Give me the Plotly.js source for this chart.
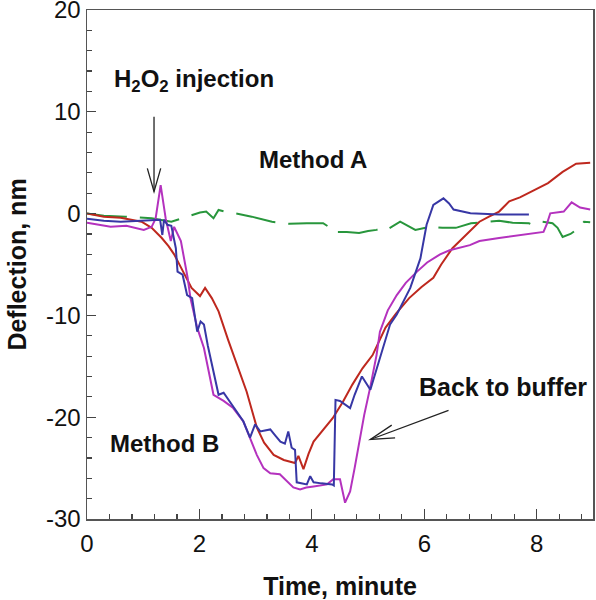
<!DOCTYPE html>
<html>
<head>
<meta charset="utf-8">
<script src="https://cdn.plot.ly/plotly-3.0.1.min.js"></script>
<style>html,body{margin:0;padding:0;background:#fff;}#chart{width:596px;height:600px;}</style>
</head>
<body>
<div id="chart"></div>
<script>
// Axis ticks
const xTickVals = [0, 2, 4, 6, 8];
const xTickText = ['0', '2', '4', '6', '8'];
const yTickVals = [-30, -20, -10, 0, 10, 20];
const yTickText = ['-30', '-20', '-10', '0', '10', '20'];

// Red trace
const redX = [0, 0.3, 0.6, 0.8, 0.97, 1.15, 1.33, 1.45, 1.55, 1.7, 1.86, 2.01, 2.1, 2.22, 2.34, 2.51, 2.69, 2.84, 3.02, 3.15, 3.32, 3.5, 3.7, 3.76, 3.85, 3.94, 4.03, 4.2, 4.37, 4.55, 4.72, 4.9, 5.08, 5.31, 5.5, 5.73, 5.95, 6.16, 6.3, 6.5, 6.75, 6.98, 7.15, 7.33, 7.51, 7.7, 7.92, 8.2, 8.46, 8.7, 8.95];
const redY = [0, -0.3, -0.4, -0.6, -0.8, -1.4, -2.4, -3.2, -4.0, -5.6, -7.3, -8.1, -7.3, -8.3, -9.6, -12.4, -15.2, -17.5, -21.0, -22.5, -23.7, -24.2, -24.5, -23.8, -25.1, -23.6, -22.4, -21.3, -20.1, -18.5, -16.8, -15.2, -13.9, -11.2, -9.8, -8.3, -7.2, -6.3, -5.0, -3.4, -2.0, -0.8, -0.3, 0.2, 1.2, 1.6, 2.2, 3.0, 4.1, 4.9, 5.0];

// Blue trace
const blueX = [0, 0.3, 0.6, 0.9, 1.19, 1.3, 1.34, 1.37, 1.43, 1.5, 1.58, 1.61, 1.7, 1.78, 1.87, 1.96, 2.02, 2.08, 2.15, 2.25, 2.34, 2.43, 2.55, 2.66, 2.78, 2.9, 2.99, 3.08, 3.17, 3.26, 3.35, 3.44, 3.52, 3.58, 3.64, 3.7, 3.73, 3.82, 3.91, 3.97, 4.03, 4.17, 4.36, 4.39, 4.42, 4.5, 4.68, 4.76, 4.89, 5.04, 5.21, 5.39, 5.51, 5.75, 5.93, 6.04, 6.16, 6.34, 6.44, 6.52, 6.82, 7.33, 7.86];
const blueY = [-0.5, -0.7, -0.8, -0.7, -0.6, -0.6, -2.1, -0.6, -1.1, -1.2, -3.4, -5.7, -6.0, -8.0, -8.3, -11.6, -10.6, -10.9, -13.0, -15.5, -17.8, -17.6, -18.6, -19.5, -20.4, -22.0, -20.7, -21.4, -21.3, -21.2, -21.8, -22.4, -22.6, -21.4, -23.0, -23.2, -26.4, -26.5, -26.6, -25.8, -26.4, -26.5, -26.6, -26.7, -18.3, -18.4, -19.1, -17.8, -16.0, -17.3, -14.2, -10.9, -9.9, -7.3, -4.4, -1.1, 0.85, 1.5, 1.0, 0.4, 0.03, -0.1, -0.1];

// Magenta trace
const magX = [0, 0.42, 0.7, 1.01, 1.15, 1.22, 1.31, 1.4, 1.49, 1.55, 1.67, 1.79, 1.84, 1.96, 2.08, 2.17, 2.25, 2.43, 2.6, 2.78, 2.87, 3.02, 3.14, 3.26, 3.43, 3.55, 3.67, 3.79, 3.9, 4.03, 4.27, 4.38, 4.5, 4.59, 4.68, 4.76, 4.84, 4.93, 5.04, 5.15, 5.21, 5.35, 5.51, 5.67, 5.87, 6.05, 6.28, 6.45, 6.81, 6.98, 7.33, 7.6, 7.81, 8.12, 8.18, 8.24, 8.48, 8.62, 8.77, 8.95];
const magY = [-0.9, -1.3, -1.2, -1.6, -1.3, -0.5, 2.8, -0.5, -2.7, -1.3, -2.7, -6.3, -8.3, -11.2, -13.2, -15.5, -17.8, -18.4, -19.1, -20.4, -21.7, -23.7, -25.0, -25.5, -25.6, -26.3, -26.9, -27.1, -26.9, -26.8, -26.6, -26.1, -26.1, -28.4, -27.3, -25.0, -22.4, -19.8, -17.0, -13.9, -11.6, -9.5, -8.0, -6.8, -5.7, -4.8, -4.0, -3.6, -3.1, -2.7, -2.4, -2.2, -2.1, -1.8, -1.0, 0.03, 0.2, 1.1, 0.6, 0.4];

// Green dashed trace (Method A)
const greenX = [0, 0.3, 0.68, 1.15, 1.5, 1.74, 2.01, 2.12, 2.25, 2.34, 2.45, 2.63, 2.93, 3.29, 3.52, 3.6, 3.91, 4.2, 4.3, 4.38, 4.54, 4.62, 4.84, 5.0, 5.15, 5.24, 5.33, 5.57, 5.84, 6.1, 6.32, 6.56, 6.83, 7.1, 7.33, 7.57, 7.86, 7.92, 8.1, 8.28, 8.37, 8.46, 8.6, 8.75, 8.84, 8.95];
const greenY = [0, -0.2, -0.3, -0.46, -0.8, -0.4, 0.1, 0.2, -0.46, 0.36, 0.2, 0.03, -0.3, -0.8, -0.95, -1.0, -0.95, -0.95, -1.3, -1.8, -1.8, -1.8, -1.9, -1.7, -1.6, -1.44, -1.6, -0.8, -1.6, -1.3, -1.4, -1.4, -0.95, -0.8, -0.7, -0.9, -0.95, -1.1, -0.8, -0.95, -1.4, -2.3, -2.0, -1.4, -0.8, -0.85];

const FONT = 'Liberation Sans, Arial, Helvetica, sans-serif';

const traces = [
  {x: greenX, y: greenY, mode: 'lines', line: {color: 'rgb(40,150,60)', width: 2, dash: '40px,13px'}},
  {x: redX, y: redY, mode: 'lines', line: {color: 'rgb(190,40,30)', width: 2}},
  {x: magX, y: magY, mode: 'lines', line: {color: 'rgb(180,50,190)', width: 2}},
  {x: blueX, y: blueY, mode: 'lines', line: {color: 'rgb(55,55,165)', width: 2}}
];

const axisCommon = {
  showgrid: false, zeroline: false, showline: true, linecolor: '#555', linewidth: 1.5,
  mirror: true, ticks: 'inside', tickcolor: '#444', tickwidth: 1.2, tickmode: 'array',
  ticklabeloverflow: 'allow',
  tickfont: {family: FONT, size: 24, color: '#111'}
};

const layout = {
  width: 596, height: 600,
  margin: {l: 87, r: 3, t: 10, b: 81},
  paper_bgcolor: '#fff', plot_bgcolor: '#fff',
  showlegend: false,
  font: {family: FONT, color: '#111'},
  xaxis: Object.assign({}, axisCommon, {
    range: [0, 9], tickvals: xTickVals, ticktext: xTickText, ticklen: 10, ticklabelstandoff: 3,
    minor: {tickmode: 'linear', dtick: 0.4, tick0: 0, ticks: 'inside', ticklen: 5, tickcolor: '#444', tickwidth: 1.2, showgrid: false},
    title: {text: 'Time, minute', font: {family: FONT, size: 25, weight: 'bold', color: '#111'}, standoff: 22}
  }),
  yaxis: Object.assign({}, axisCommon, {
    range: [-30, 20], tickvals: yTickVals, ticktext: yTickText, ticklen: 9,
    minor: {tickmode: 'linear', dtick: 2, tick0: 0, ticks: 'inside', ticklen: 5, tickcolor: '#444', tickwidth: 1.2, showgrid: false},
    title: {text: 'Deflection, nm', font: {family: FONT, size: 25, weight: 'bold', color: '#111'}, standoff: 12}
  }),
  annotations: [
    {x: 0.44, y: 13.1, xref: 'x', yref: 'y', xanchor: 'left', yanchor: 'middle', showarrow: false,
     text: 'H<sub>2</sub>O<sub>2</sub> injection', font: {family: FONT, size: 24, weight: 'bold', color: '#111'}},
    {x: 3.02, y: 5.34, xref: 'x', yref: 'y', xanchor: 'left', yanchor: 'middle', showarrow: false,
     text: 'Method A', font: {family: FONT, size: 24, weight: 'bold', color: '#111'}},
    {x: 0.38, y: -22.6, xref: 'x', yref: 'y', xanchor: 'left', yanchor: 'middle', showarrow: false,
     text: 'Method B', font: {family: FONT, size: 24, weight: 'bold', color: '#111'}},
    {x: 5.87, y: -17.0, xref: 'x', yref: 'y', xanchor: 'left', yanchor: 'middle', showarrow: false,
     text: 'Back to buffer', font: {family: FONT, size: 25, weight: 'bold', color: '#111'}}
  ],
  shapes: [
    {type: 'line', xref: 'x', yref: 'y', x0: 1.192, y0: 9.51, x1: 1.192, y1: 2.16, line: {color: '#222', width: 1.3}},
    {type: 'path', xref: 'x', yref: 'y', path: 'M 1.073 4.44 L 1.192 2.16 L 1.311 4.44', line: {color: '#222', width: 1.3}},
    {type: 'line', xref: 'x', yref: 'y', x0: 6.43, y0: -19.34, x1: 5.04, y1: -22.19, line: {color: '#222', width: 1.3}},
    {type: 'path', xref: 'x', yref: 'y', path: 'M 5.42 -20.78 L 5.04 -22.19 L 5.48 -22.03', line: {color: '#222', width: 1.3}}
  ]
};

Plotly.newPlot('chart', traces, layout, {staticPlot: true, displayModeBar: false});
</script>
</body>
</html>
